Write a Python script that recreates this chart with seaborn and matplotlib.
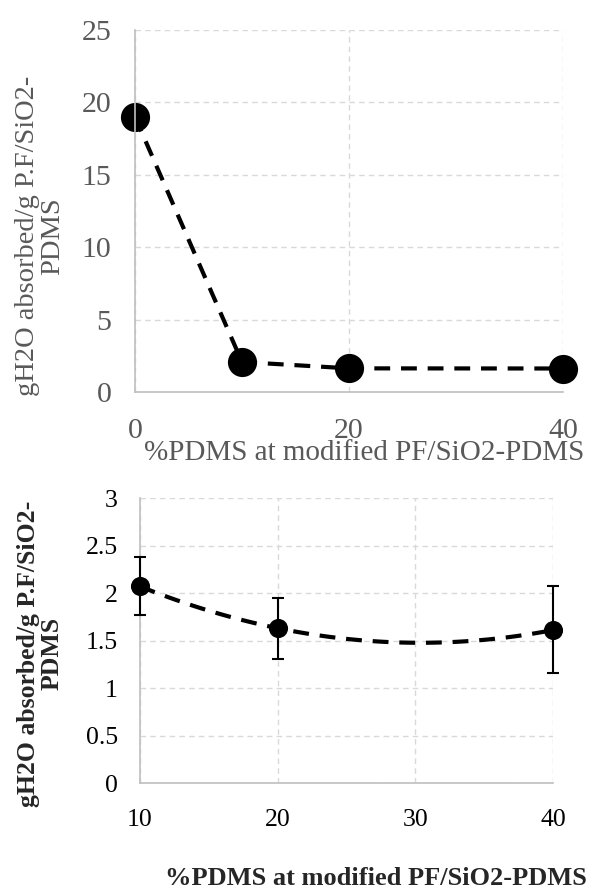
import matplotlib
matplotlib.use("Agg")
import matplotlib.pyplot as plt
import pandas as pd
import seaborn as sns

sns.set_theme(style="white")
plt.rcParams["font.family"] = ["Liberation Serif", "DejaVu Serif"]

# top panel: full range incl. unmodified sample
pdms_all = [0, 10, 20, 40]
water_all = [19.0, 2.07, 1.63, 1.62]

# bottom panel: modified samples with error bars
pdms_mod = [10, 20, 40]
water_mod = [2.07, 1.63, 1.61]
water_err_lo = [0.30, 0.32, 0.45]
water_err_hi = [0.31, 0.32, 0.46]

Y_LABEL = "gH2O absorbed/g P.F/SiO2-\nPDMS"
X_LABEL = "%PDMS at modified PF/SiO2-PDMS"

GRID = "#d9d9d9"
SPINE = "#bfbfbf"
GRAY_TXT = "#595959"


def style_axes(ax):
    ax.grid(True, color=GRID, linestyle=(0, (4, 3)), linewidth=1.0)
    ax.set_axisbelow(True)
    for side in ["top", "right"]:
        ax.spines[side].set_visible(False)
    for side in ["left", "bottom"]:
        ax.spines[side].set_color(SPINE)
        ax.spines[side].set_linewidth(1.2)
    ax.tick_params(length=0)


def plot_top(ax):
    df = pd.DataFrame({"pdms": pdms_all, "water": water_all})
    sns.lineplot(data=df, x="pdms", y="water", ax=ax, color="black",
                 linewidth=3, marker="o", markersize=21, markeredgewidth=0,
                 dashes=False, clip_on=False)
    ax.lines[-1].set_linestyle((0, (3.8, 2.6)))
    style_axes(ax)
    ax.set_xlim(0, 40)
    ax.set_ylim(0, 25)
    ax.set_xticks([0, 20, 40])
    ax.set_yticks(range(0, 26, 5))
    ax.tick_params(axis="x", labelsize=21.5, labelcolor=GRAY_TXT, pad=19)
    ax.tick_params(axis="y", labelsize=21.5, labelcolor=GRAY_TXT, pad=17)
    ax.set_xlabel(X_LABEL, fontsize=21, color=GRAY_TXT, va="top")
    ax.xaxis.set_label_coords(0.535, -0.133)
    ax.set_ylabel(Y_LABEL, fontsize=20.5, color=GRAY_TXT, linespacing=1.0)
    ax.yaxis.set_label_coords(-0.164, 0.431)


def plot_bottom(ax):
    df = pd.DataFrame({"pdms": pdms_mod, "water": water_mod})
    ax.errorbar(pdms_mod, water_mod, yerr=[water_err_lo, water_err_hi],
                fmt="none", ecolor="black", elinewidth=1.5, capsize=4,
                capthick=1.5, zorder=3, clip_on=False)
    sns.regplot(data=df, x="pdms", y="water", ax=ax, order=2, ci=None,
                color="black",
                scatter_kws={"s": 190, "zorder": 4, "linewidths": 0,
                             "alpha": 1, "clip_on": False},
                line_kws={"linewidth": 3, "linestyle": (0, (3.8, 2.6))})
    style_axes(ax)
    ax.set_xlim(10, 40)
    ax.set_ylim(0, 3)
    ax.set_xticks([10, 20, 30, 40])
    ax.set_yticks([0, 0.5, 1, 1.5, 2, 2.5, 3])
    ax.set_yticklabels(["0", "0.5", "1", "1.5", "2", "2.5", "3"])
    ax.tick_params(axis="x", labelsize=18.5, labelcolor="black", pad=19)
    ax.tick_params(axis="y", labelsize=18.5, labelcolor="black", pad=16)
    ax.set_xlabel(X_LABEL, fontsize=19, fontweight="bold", va="top")
    ax.xaxis.set_label_coords(0.571, -0.295)
    ax.set_ylabel(Y_LABEL, fontsize=18.5, fontweight="bold", linespacing=1.0)
    ax.yaxis.set_label_coords(-0.186, 0.453)


def main():
    fig = plt.figure(figsize=(5.91, 8.90), dpi=100)
    ax_top = fig.add_axes([0.2284, 0.5596, 0.7242, 0.4067])
    ax_bot = fig.add_axes([0.2369, 0.1202, 0.6988, 0.3202])
    plot_top(ax_top)
    plot_bottom(ax_bot)
    fig.savefig("out.png", dpi=100)
    plt.close(fig)


if __name__ == "__main__":
    main()
